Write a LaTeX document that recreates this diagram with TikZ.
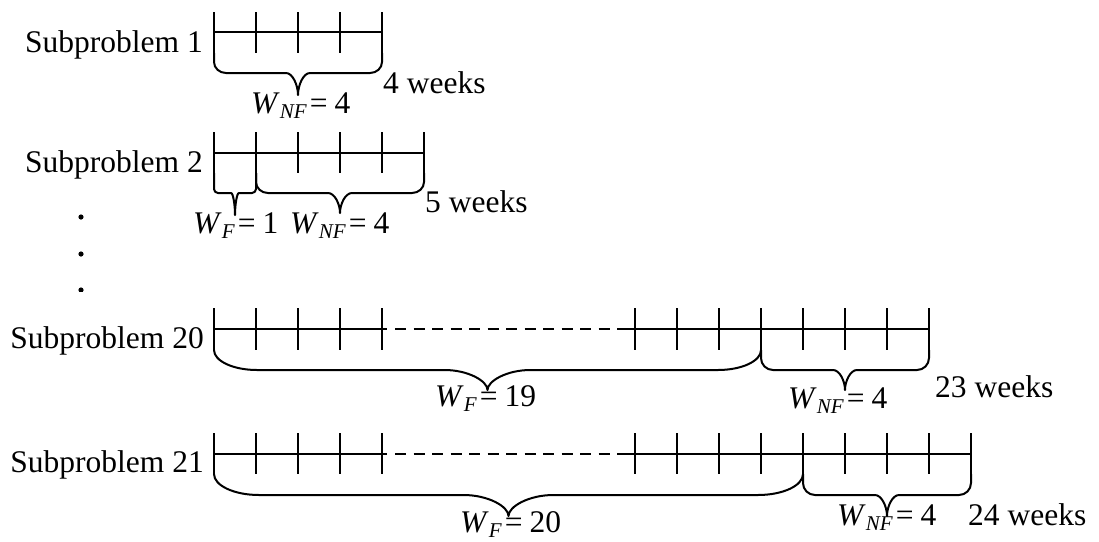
\documentclass[tikz,border=0pt]{standalone}
\usepackage{fontspec}
\setmainfont{Liberation Serif}
\newcommand{\WL}[2]{\textit{W}\raisebox{-5pt}{\fontsize{21}{21}\selectfont\textit{#1}}\hspace{3pt}=\hspace{7pt}#2}
\newcommand{\wbrace}[7]{%
  \draw[ln] (#1,#3) -- ({#1},{#4-#7})
    .. controls ({#1},{#4-0.448*#7}) and ({#1+0.448*#6},{#4}) .. ({#1+#6},{#4})
    -- ({(#1+#2)/2-#6},{#4})
    .. controls ({(#1+#2)/2-0.448*#6},{#4}) and ({(#1+#2)/2},{#5-0.448*(#5-#4)}) .. ({(#1+#2)/2},{#5})
    .. controls ({(#1+#2)/2},{#5-0.448*(#5-#4)}) and ({(#1+#2)/2+0.448*#6},{#4}) .. ({(#1+#2)/2+#6},{#4})
    -- ({#2-#6},{#4})
    .. controls ({#2-0.448*#6},{#4}) and ({#2},{#4-0.448*#7}) .. ({#2},{#4-#7}) -- (#2,#3);}
\begin{document}
\begin{tikzpicture}[x=1pt,y=-1pt,
  ln/.style={line width=2pt, line join=round},
  lab/.style={inner sep=0pt, font=\fontsize{31.5}{36}\selectfont},
  dsh/.style={ln, dash pattern=on 11pt off 7.5pt}]
\useasboundingbox (0,0) rectangle (1099,541);
% ---------- Subproblem 1
\node[lab, anchor=base east] (sp1) at (203,52) {Subproblem 1};
\draw[ln] (214,32) -- (382,32);
\foreach \x in {214,256,298,340,382} \draw[ln] (\x,12) -- (\x,53);
\wbrace{214}{382}{53}{73}{95}{12}{11}
\node[lab, anchor=base west] (w1) at (251,113) {\WL{NF}{4}};
\node[lab, anchor=base west] (k1) at (383,93) {4 weeks};
% ---------- Subproblem 2
\node[lab, anchor=base east] (sp2) at (203,172) {Subproblem 2};
\draw[ln] (214,153) -- (424,153);
\foreach \x in {214,256,298,340,382,424} \draw[ln] (\x,132) -- (\x,173);
\wbrace{214}{256}{173}{193}{215}{4}{4}
\wbrace{256}{424}{173}{193}{213}{12}{11}
\node[lab, anchor=base west] (f2) at (193,233) {\WL{F}{1}};
\node[lab, anchor=base west] (w2) at (290,233) {\WL{NF}{4}};
\node[lab, anchor=base west] (k2) at (425,212) {5 weeks};
% ---------- dots
\fill (81,217) circle (2.6pt);
\fill (81,254) circle (2.6pt);
\begin{scope}
\clip (70,280) rectangle (95,291);
\fill (81,290) circle (2.6pt);
\end{scope}
% ---------- Subproblem 20
\node[lab, anchor=base east] (sp20) at (204,348) {Subproblem 20};
\draw[ln] (214,329) -- (387,329);
\draw[dsh] (395,329) -- (628,329);
\draw[ln] (628,329) -- (929,329);
\foreach \x in {214,256,298,340,382,635,677,719,761,803,845,887,929} \draw[ln] (\x,308) -- (\x,350);
\wbrace{214}{761}{350}{370}{390}{43}{20}
\wbrace{761}{929}{350}{370}{390}{12}{12}
\node[lab, anchor=base west] (f20) at (435,406) {\WL{F}{19}};
\node[lab, anchor=base west] (w20) at (788,408) {\WL{NF}{4}};
\node[lab, anchor=base west] (k20) at (935,397) {23 weeks};
% ---------- Subproblem 21
\node[lab, anchor=base east] (sp21) at (204,472) {Subproblem 21};
\draw[ln] (214,454) -- (387,454);
\draw[dsh] (395,454) -- (628,454);
\draw[ln] (628,454) -- (971,454);
\foreach \x in {214,256,298,340,382,635,677,719,761,803,845,887,929,971} \draw[ln] (\x,433) -- (\x,474);
\wbrace{214}{803}{474}{495}{516}{45}{21}
\wbrace{803}{971}{474}{495}{516}{12}{12}
\node[lab, anchor=base west] (f21) at (460,532) {\WL{F}{20}};
\node[lab, anchor=base west] (w21) at (837,525) {\WL{NF}{4}};
\node[lab, anchor=base west] (k21) at (968,525) {24 weeks};
\end{tikzpicture}
\end{document}
